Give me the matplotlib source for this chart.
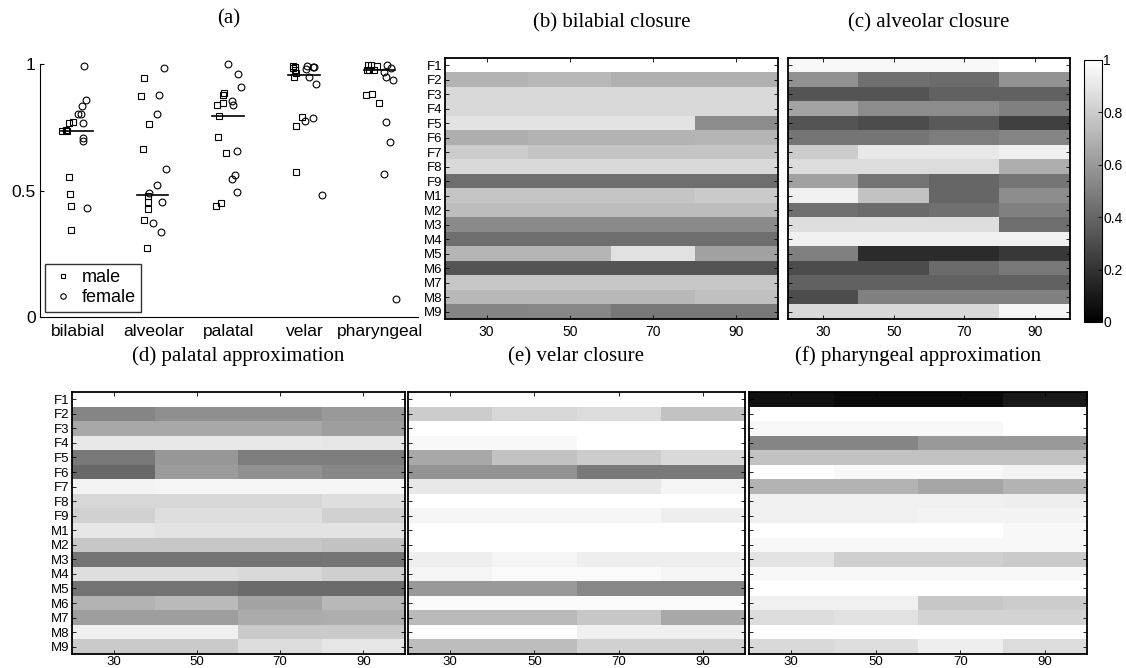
import numpy as np
import matplotlib
matplotlib.use('Agg')
from matplotlib import pyplot as plt

plt.rcParams['font.family'] = ['Liberation Sans', 'DejaVu Sans']

places = ['bilabial', 'alveolar', 'palatal', 'velar', 'pharyngeal']
speakers = ['F1', 'F2', 'F3', 'F4', 'F5', 'F6', 'F7', 'F8', 'F9',
            'M1', 'M2', 'M3', 'M4', 'M5', 'M6', 'M7', 'M8', 'M9']
frames = [30, 50, 70, 90]

# (a) per-speaker scores, one row per place of articulation
male_vals = [
    [0.736, 0.736, 0.74, 0.768, 0.771, 0.552, 0.486, 0.437, 0.343],
    [0.943, 0.874, 0.764, 0.663, 0.48, 0.456, 0.426, 0.383, 0.271],
    [0.887, 0.877, 0.847, 0.838, 0.793, 0.711, 0.647, 0.452, 0.44],
    [0.993, 0.99, 0.985, 0.976, 0.963, 0.95, 0.792, 0.756, 0.573],
    [0.996, 0.995, 0.992, 0.978, 0.976, 0.975, 0.881, 0.877, 0.845],
]
male_dx = [
    [-0.213, -0.147, -0.16, -0.116, -0.067, -0.112, -0.099, -0.094, -0.086],
    [-0.12, -0.168, -0.054, -0.138, -0.075, -0.075, -0.067, -0.12, -0.089],
    [-0.066, -0.075, -0.083, -0.163, -0.128, -0.142, -0.04, -0.109, -0.167],
    [-0.149, -0.127, -0.149, -0.127, -0.118, -0.14, -0.04, -0.118, -0.114],
    [-0.157, -0.126, -0.046, -0.169, -0.082, -0.144, -0.112, -0.188, -0.016],
]
female_vals = [
    [0.993, 0.858, 0.834, 0.802, 0.802, 0.768, 0.706, 0.697, 0.431],
    [0.983, 0.877, 0.804, 0.586, 0.522, 0.49, 0.455, 0.373, 0.337],
    [0.999, 0.96, 0.909, 0.855, 0.838, 0.657, 0.561, 0.545, 0.494],
    [0.993, 0.99, 0.99, 0.979, 0.95, 0.921, 0.775, 0.788, 0.481],
    [0.996, 0.983, 0.97, 0.95, 0.937, 0.772, 0.69, 0.564, 0.072],
]
female_dx = [
    [0.086, 0.104, 0.06, 0.0, 0.046, 0.065, 0.073, 0.073, 0.126],
    [0.144, 0.078, 0.048, 0.171, 0.048, -0.054, 0.118, -0.005, 0.097],
    [-0.009, 0.115, 0.155, 0.04, 0.057, 0.102, 0.075, 0.044, 0.102],
    [0.028, 0.128, 0.115, 0.019, 0.058, 0.151, 0.001, 0.107, 0.234],
    [0.086, 0.139, 0.05, 0.077, 0.173, 0.077, 0.126, 0.05, 0.205],
]
medians = [0.736, 0.482, 0.793, 0.958, 0.976]

# (b)-(f) rows F1..M9, columns 30/50/70/90
bilabial_closure = [
    [1.0, 1.0, 1.0, 1.0], [0.70, 0.72, 0.69, 0.69], [0.85, 0.85, 0.85, 0.85],
    [0.85, 0.85, 0.85, 0.85], [0.89, 0.89, 0.89, 0.55], [0.68, 0.70, 0.70, 0.71],
    [0.80, 0.77, 0.77, 0.77], [0.85, 0.85, 0.85, 0.85], [0.43, 0.43, 0.43, 0.43],
    [0.77, 0.77, 0.77, 0.79], [0.74, 0.74, 0.74, 0.74], [0.54, 0.54, 0.54, 0.54],
    [0.43, 0.43, 0.43, 0.43], [0.71, 0.71, 0.88, 0.63], [0.33, 0.33, 0.33, 0.33],
    [0.78, 0.78, 0.78, 0.78], [0.72, 0.72, 0.72, 0.75], [0.52, 0.53, 0.47, 0.47],
]
alveolar_closure = [
    [0.97, 0.97, 0.97, 1.0], [0.57, 0.44, 0.42, 0.58], [0.33, 0.33, 0.38, 0.38],
    [0.64, 0.55, 0.55, 0.50], [0.33, 0.30, 0.35, 0.25], [0.46, 0.46, 0.49, 0.52],
    [0.80, 0.91, 0.91, 0.94], [0.86, 0.86, 0.86, 0.68], [0.63, 0.45, 0.40, 0.46],
    [0.94, 0.76, 0.40, 0.55], [0.44, 0.42, 0.44, 0.50], [0.87, 0.87, 0.87, 0.43],
    [0.94, 0.94, 0.94, 0.94], [0.50, 0.17, 0.17, 0.22], [0.30, 0.30, 0.42, 0.47],
    [0.38, 0.38, 0.38, 0.38], [0.30, 0.50, 0.50, 0.50], [0.85, 0.85, 0.85, 0.96],
]
palatal_approx = [
    [1.0, 1.0, 1.0, 1.0], [0.52, 0.56, 0.56, 0.60], [0.66, 0.66, 0.66, 0.62],
    [0.91, 0.91, 0.91, 0.90], [0.47, 0.59, 0.49, 0.49], [0.41, 0.61, 0.57, 0.53],
    [0.95, 0.96, 0.96, 0.96], [0.84, 0.84, 0.84, 0.87], [0.82, 0.87, 0.87, 0.82],
    [0.90, 0.89, 0.89, 0.89], [0.78, 0.78, 0.78, 0.76], [0.45, 0.45, 0.45, 0.46],
    [0.87, 0.87, 0.85, 0.81], [0.45, 0.45, 0.42, 0.42], [0.70, 0.73, 0.64, 0.72],
    [0.62, 0.62, 0.67, 0.68], [0.94, 0.94, 0.79, 0.79], [0.79, 0.79, 0.86, 0.90],
]
velar_closure = [
    [1.0, 1.0, 1.0, 1.0], [0.80, 0.84, 0.86, 0.76], [1.0, 1.0, 1.0, 1.0],
    [0.97, 0.97, 1.0, 1.0], [0.66, 0.76, 0.80, 0.85], [0.58, 0.58, 0.48, 0.48],
    [0.91, 0.91, 0.91, 0.96], [1.0, 1.0, 1.0, 1.0], [0.96, 0.96, 0.96, 0.93],
    [1.0, 1.0, 1.0, 1.0], [1.0, 1.0, 1.0, 1.0], [0.93, 0.96, 0.93, 0.93],
    [0.96, 0.98, 0.98, 0.96], [0.60, 0.60, 0.53, 0.53], [0.98, 0.98, 0.98, 0.98],
    [0.73, 0.73, 0.78, 0.66], [1.0, 1.0, 0.94, 0.94], [0.74, 0.74, 0.82, 0.82],
]
pharyngeal_approx = [
    [0.07, 0.04, 0.04, 0.10], [1.0, 1.0, 1.0, 1.0], [0.97, 0.97, 0.97, 1.0],
    [0.52, 0.52, 0.60, 0.60], [0.76, 0.76, 0.76, 0.76], [1.0, 0.97, 0.97, 0.95],
    [0.70, 0.70, 0.65, 0.70], [0.94, 0.94, 0.94, 0.93], [0.94, 0.94, 0.95, 0.95],
    [1.0, 1.0, 1.0, 0.97], [0.97, 0.97, 0.97, 0.97], [0.89, 0.81, 0.81, 0.79],
    [0.97, 0.97, 0.97, 0.97], [1.0, 1.0, 1.0, 1.0], [0.94, 0.94, 0.78, 0.80],
    [0.86, 0.88, 0.83, 0.83], [1.0, 1.0, 1.0, 1.0], [0.85, 0.87, 0.93, 0.86],
]

title_font = dict(family='Liberation Serif', fontsize=15)

fig = plt.figure(figsize=(11.26, 6.68), dpi=100)

# ---- (a) scatter ----
ax = fig.add_axes([0.0355, 0.5254, 0.3357, 0.3788])
for i in range(len(places)):
    x = i + 1
    ax.plot(x + np.array(male_dx[i]), male_vals[i], 's', mfc='none', mec='k',
            ms=3.7, mew=0.8, clip_on=False, label='male' if i == 0 else None)
    ax.plot(x + np.array(female_dx[i]), female_vals[i], 'o', mfc='none', mec='k',
            ms=4.9, mew=0.8, clip_on=False, label='female' if i == 0 else None)
    ax.plot([x - 0.22, x + 0.2], [medians[i], medians[i]], 'k-', lw=1.2)
ax.set_xlim(0.5, 5.5)
ax.set_ylim(0, 1)
ax.set_xticks(range(1, 6))
ax.set_xticklabels(places, fontsize=12.5)
ax.set_yticks([0, 0.5, 1])
ax.set_yticklabels(['0', '0.5', '1'], fontsize=12.5)
ax.tick_params(axis='x', length=0, pad=5)
ax.tick_params(axis='y', direction='in', length=3, pad=3)
ax.spines['top'].set_visible(False)
ax.spines['right'].set_visible(False)
leg = ax.legend(loc='lower left', fontsize=13, handletextpad=0.4, handlelength=1.3,
                borderaxespad=0.3, borderpad=0.3, labelspacing=0.15, fancybox=False,
                markerscale=0.8)
leg.get_frame().set_edgecolor('k')
leg.get_frame().set_linewidth(1.0)
ax.set_title('(a)', pad=29, **title_font)

# ---- heatmaps ----
panels = [
    (bilabial_closure, '(b) bilabial closure', [0.3952, 0.5225, 0.2957, 0.3907], True),
    (alveolar_closure, '(c) alveolar closure', [0.6998, 0.5225, 0.2504, 0.3907], False),
    (palatal_approx, '(d) palatal approximation', [0.0639, 0.0210, 0.2957, 0.3922], True),
    (velar_closure, '(e) velar closure', [0.3623, 0.0210, 0.2993, 0.3922], False),
    (pharyngeal_approx, '(f) pharyngeal approximation', [0.6652, 0.0210, 0.3002, 0.3922], False),
]

im = None
for k, (data, title, rect, show_names) in enumerate(panels):
    hx = fig.add_axes(rect)
    im = hx.imshow(np.array(data), cmap='gray', vmin=0, vmax=1, aspect='auto',
                   interpolation='nearest', extent=(20, 100, len(speakers) + 0.5, 0.5))
    hx.set_xticks(frames)
    hx.set_xticklabels([str(f) for f in frames], fontsize=10 if k < 2 else 9.5)
    hx.set_yticks(range(1, len(speakers) + 1))
    if show_names:
        hx.set_yticklabels(speakers, fontsize=9.5)
    else:
        hx.set_yticklabels([])
    hx.tick_params(direction='in', top=True, right=True, length=3, width=0.6, pad=2)
    hx.tick_params(axis='x', pad=4 if k < 2 else 1.5)
    for s in hx.spines.values():
        s.set_linewidth(1.3)
    hx.set_title(title, pad=22, **title_font)

cax = fig.add_axes([0.9627, 0.518, 0.016, 0.3922])
cb = fig.colorbar(im, cax=cax, ticks=[0, 0.2, 0.4, 0.6, 0.8, 1])
cb.ax.set_yticklabels(['0', '0.2', '0.4', '0.6', '0.8', '1'], fontsize=10)
cb.ax.tick_params(direction='in', length=3, width=0.6, pad=1)
cb.outline.set_linewidth(0.8)

fig.savefig('out.png', dpi=100)
